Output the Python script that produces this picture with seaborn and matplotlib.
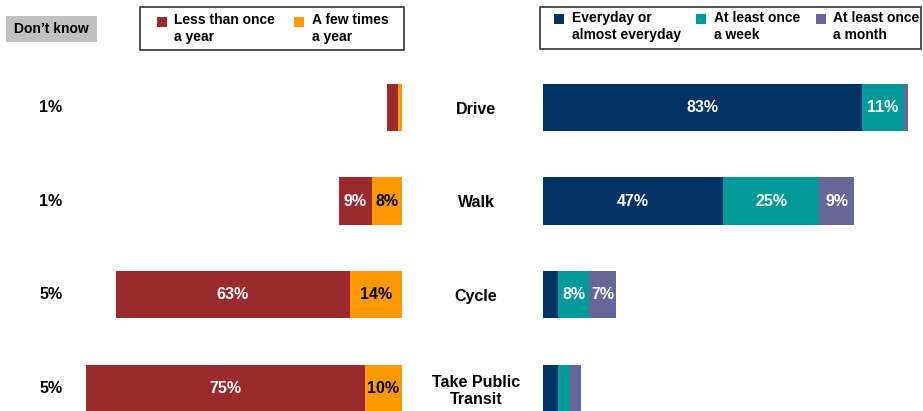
import matplotlib
matplotlib.use("Agg")
import matplotlib.pyplot as plt
from matplotlib.patches import Rectangle
from matplotlib.transforms import blended_transform_factory
import seaborn as sns
import pandas as pd

# Survey data (% of respondents)
modes = ["Drive", "Walk", "Cycle", "Take Public\nTransit"]
dont_know = [1, 1, 5, 5]
less_than_once_year = [3, 9, 63, 75]
few_times_year = [1, 8, 14, 10]
everyday = [83, 47, 4, 4]
once_week = [11, 25, 8, 3]
once_month = [1, 9, 7, 3]

C_RED = "#9B2A2C"
C_ORANGE = "#FF9900"
C_NAVY = "#003366"
C_TEAL = "#009999"
C_PURPLE = "#666699"

sns.set_style("white")
plt.rcParams["font.family"] = ["Liberation Sans", "DejaVu Sans"]
plt.rcParams["font.weight"] = "bold"
plt.rcParams["text.color"] = "black"
plt.rcParams["ytick.color"] = "black"

W, H = 923, 411
fig = plt.figure(figsize=(W / 100, H / 100), dpi=100)


def px_box(x0, x1, y0, y1):
    return [x0 / W, 1 - y1 / H, (x1 - x0) / W, (y1 - y0) / H]


ax_l = fig.add_axes(px_box(30, 402, 60.75, 411.4))
ax_r = fig.add_axes(px_box(543, 923, 60.75, 411.4))

df = pd.DataFrame({
    "mode": modes,
    "less": less_than_once_year,
    "few": few_times_year,
    "every": everyday,
    "week": once_week,
    "month": once_month,
})
df["left_total"] = df["few"] + df["less"]
df["r1"] = df["every"]
df["r2"] = df["every"] + df["week"]
df["r3"] = df["every"] + df["week"] + df["month"]

BW = 0.503
# Left panel: infrequent use, drawn from the right edge outward
sns.barplot(data=df, x="left_total", y="mode", orient="h", color=C_RED,
            saturation=1, width=BW, ax=ax_l)
sns.barplot(data=df, x="few", y="mode", orient="h", color=C_ORANGE,
            saturation=1, width=BW, ax=ax_l)
ax_l.set_xlim(100, 0)

# Right panel: frequent use, stacked from the left edge
for col, c in [("r3", C_PURPLE), ("r2", C_TEAL), ("r1", C_NAVY)]:
    sns.barplot(data=df, x=col, y="mode", orient="h", color=c,
                saturation=1, width=BW, ax=ax_r)
ax_r.set_xlim(0, 380 / 3.84)

for ax in (ax_l, ax_r):
    ax.set_ylim(3.25, -0.5)
    ax.set_xlabel("")
    ax.set_ylabel("")
    ax.set_xticks([])
    sns.despine(ax=ax, left=True, bottom=True)
    for p in ax.patches:
        p.set_edgecolor("none")

ax_l.set_yticks([])
ax_r.tick_params(axis="y", length=0, pad=48.2, labelcolor="black")
ax_r.set_yticks(range(len(modes)))
ax_r.set_yticklabels(modes, fontsize=11.5, fontweight="bold", ha="center",
                     linespacing=1.2, color="black")

FS = 11.5

# Segment labels
for i in range(len(modes)):
    if less_than_once_year[i] >= 7:
        ax_l.text(few_times_year[i] + less_than_once_year[i] / 2, i,
                  f"{less_than_once_year[i]}%", ha="center", va="center",
                  color="white", fontsize=FS, fontweight="bold")
    if few_times_year[i] >= 7:
        ax_l.text(few_times_year[i] / 2, i, f"{few_times_year[i]}%",
                  ha="center", va="center", color="black", fontsize=FS,
                  fontweight="bold")
    start = 0
    for v in (everyday[i], once_week[i], once_month[i]):
        if v >= 7:
            ax_r.text(start + v / 2, i, f"{v}%", ha="center", va="center",
                      color="white", fontsize=FS, fontweight="bold")
        start += v

# "Don't know" column
tr = blended_transform_factory(fig.transFigure, ax_l.transData)
for i, v in enumerate(dont_know):
    ax_l.text(51 / W, i, f"{v}%", transform=tr, ha="center", va="center",
              fontsize=FS, fontweight="bold", color="black", clip_on=False)

fig.add_artist(Rectangle((6 / W, 1 - 42 / H), 91 / W, 26 / H,
                         transform=fig.transFigure, facecolor="#C0C0C0",
                         edgecolor="none"))
fig.text(51.5 / W, 1 - 29 / H, "Don’t know", ha="center", va="center",
         fontsize=10, fontweight="bold", color="black")


def legend_box(x0, x1, y0, y1, items, sq_top, txt_top):
    fig.add_artist(Rectangle((x0 / W, 1 - y1 / H), (x1 - x0) / W, (y1 - y0) / H,
                             transform=fig.transFigure, facecolor="white",
                             edgecolor="#404040", linewidth=1.3))
    for sx, tx, color, label in items:
        fig.add_artist(Rectangle((sx / W, 1 - (sq_top + 10) / H), 10 / W, 10 / H,
                                 transform=fig.transFigure, facecolor=color,
                                 edgecolor="none"))
        fig.text(tx / W, 1 - txt_top / H, label, ha="left", va="top",
                 fontsize=10, fontweight="bold", linespacing=1.25,
                 color="black")


legend_box(140, 404, 7, 50,
           [(157, 174, C_RED, "Less than once\na year"),
            (294, 312, C_ORANGE, "A few times\na year")],
           sq_top=17, txt_top=13.5)
legend_box(540, 921, 7, 49,
           [(554, 572, C_NAVY, "Everyday or\nalmost everyday"),
            (696, 714, C_TEAL, "At least once\na week"),
            (816, 833, C_PURPLE, "At least once\na month")],
           sq_top=14.5, txt_top=11)

fig.savefig("out.png", dpi=100)
